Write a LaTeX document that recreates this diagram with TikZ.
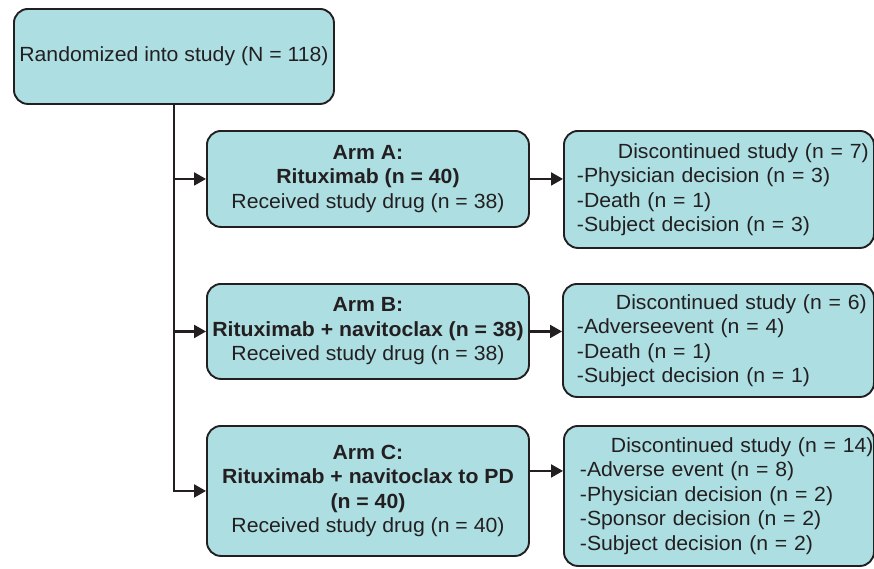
\documentclass[tikz,border=0pt]{standalone}
\usepackage{fontspec}
\setmainfont{Liberation Sans}[FakeStretch=1.035]
\usetikzlibrary{arrows.meta}
\definecolor{boxfill}{RGB}{172,222,226}
\definecolor{ink}{RGB}{35,31,32}
\begin{document}
\begin{tikzpicture}[x=1pt,y=-1pt,
  box/.style={draw=ink, line width=1.9pt, fill=boxfill, rounded corners=14pt,
    anchor=north west, inner sep=0pt, text=ink,
    font=\fontsize{20.5}{24.5}\selectfont},
  armbox/.style={box, align=center, minimum width=322pt},
  discbox/.style={box, align=left},
  conn/.style={draw=ink, line width=2.1pt},
  arr/.style={conn, -{Triangle[length=12pt,width=13pt]}}]
\useasboundingbox (0,0) rectangle (874,568);

\node[box, minimum width=320pt, minimum height=95pt] (top) at (13,8)
  {Randomized into study (N = 118)};

\node[armbox, minimum height=96pt] (armA) at (206,130)
  {\textbf{Arm A:}\\ \textbf{Rituximab (n = 40)}\\ Received study drug (n = 38)};
\node[armbox, minimum height=95pt] (armB) at (206,283)
  {\textbf{Arm B:}\\ \textbf{Rituximab + navitoclax (n = 38)}\\ Received study drug (n = 38)};
\node[armbox, minimum height=130pt] (armC) at (206,425)
  {\textbf{Arm C:}\\ \textbf{Rituximab + navitoclax to PD}\\ \textbf{(n = 40)}\\ Received study drug (n = 40)};

\node[discbox, minimum width=310pt, text width=284pt, minimum height=117pt] (discA) at (563,130)
  {\mbox{\hspace*{41pt}Discontinued study (n = 7)}\\ \mbox{-Physician decision (n = 3)}\\ \mbox{-Death (n = 1)}\\ \mbox{-Subject decision (n = 3)}};
\node[discbox, minimum width=311pt, text width=283pt, minimum height=113pt] (discB) at (562,283)
  {\mbox{\hspace*{39pt}Discontinued study (n = 6)}\\ \mbox{-Adverseevent (n = 4)}\\ \mbox{-Death (n = 1)}\\ \mbox{-Subject decision (n = 1)}};
\node[discbox, minimum width=310pt, text width=278pt, minimum height=140pt] (discC) at (563,425)
  {\mbox{\hspace*{31pt}Discontinued study (n = 14)}\\ \mbox{-Adverse event (n = 8)}\\ \mbox{-Physician decision (n = 2)}\\ \mbox{-Sponsor decision (n = 2)}\\ \mbox{-Subject decision (n = 2)}};

\draw[arr] (top.south) |- (armC.west);
\draw[arr] (top.south |- armA.west) -- (armA.west);
\draw[arr] (top.south |- armB.west) -- (armB.west);

\draw[arr] (armA.east) -- (armA.east -| discA.west);
\draw[arr] (armB.east) -- (armB.east -| discB.west);
\draw[arr] ([yshift=20pt]armC.east) -- ([yshift=20pt]armC.east -| discC.west);
\end{tikzpicture}
\end{document}
